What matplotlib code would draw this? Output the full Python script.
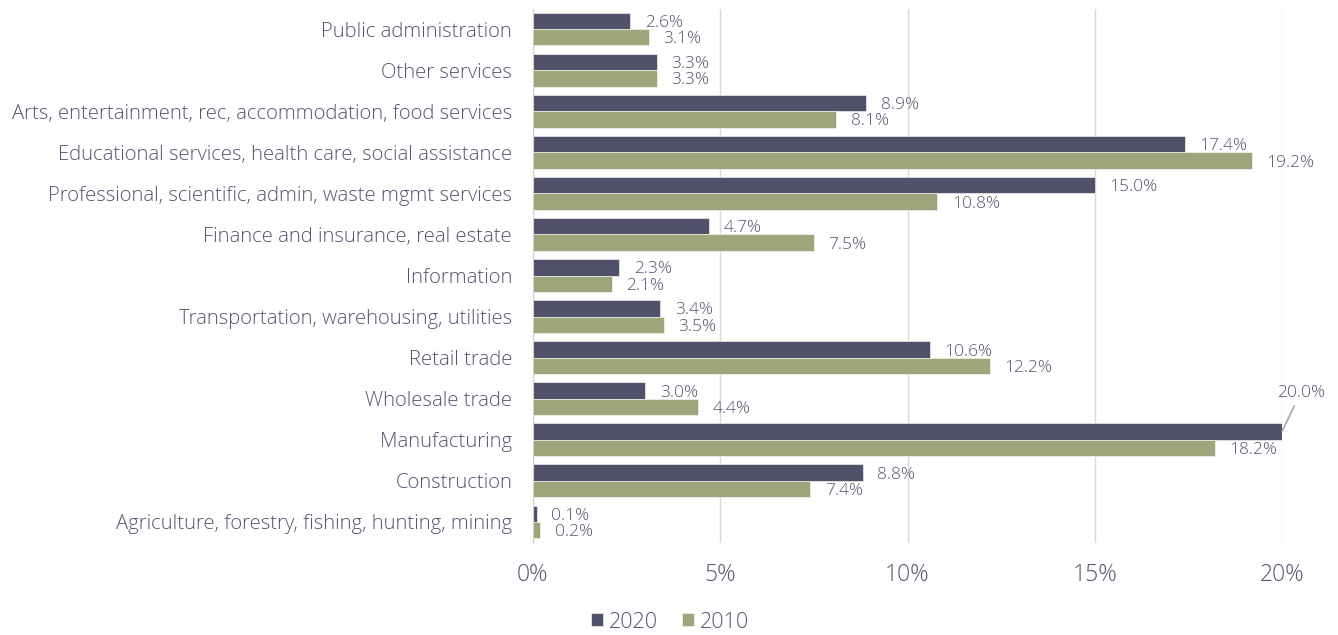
import matplotlib.pyplot as plt
import numpy as np

categories = [
    "Public administration",
    "Other services",
    "Arts, entertainment, rec, accommodation, food services",
    "Educational services, health care, social assistance",
    "Professional, scientific, admin, waste mgmt services",
    "Finance and insurance, real estate",
    "Information",
    "Transportation, warehousing, utilities",
    "Retail trade",
    "Wholesale trade",
    "Manufacturing",
    "Construction",
    "Agriculture, forestry, fishing, hunting, mining",
]
share_2020 = [2.6, 3.3, 8.9, 17.4, 15.0, 4.7, 2.3, 3.4, 10.6, 3.0, 20.0, 8.8, 0.1]
share_2010 = [3.1, 3.3, 8.1, 19.2, 10.8, 7.5, 2.1, 3.5, 12.2, 4.4, 18.2, 7.4, 0.2]
x_ticks = [0, 5, 10, 15, 20]

C2020 = "#515169"
C2010 = "#9da57b"
TXT = "#555570"
plt.rcParams['font.family'] = ['Open Sans', 'DejaVu Sans']

fig = plt.figure(figsize=(13.38, 6.35), dpi=100)
ax = fig.add_axes([533 / 1338, 1 - 542.5 / 635, (1282 - 533) / 1338, (542.5 - 8.5) / 635])

n = len(categories)
y = np.arange(n)
h = 0.40
ax.barh(y - h / 2, share_2020, height=h, color=C2020, edgecolor="#ffffff", linewidth=0.4, label="2020", zorder=3)
ax.barh(y + h / 2, share_2010, height=h, color=C2010, edgecolor="#ffffff", linewidth=0.4, label="2010", zorder=3)

ax.set_xlim(0, 20)
ax.set_ylim(n - 0.5, -0.5)
ax.set_yticks(y)
ax.set_yticklabels(categories, fontsize=14.6, color=TXT, fontweight="light")
ax.set_xticks(x_ticks)
ax.set_xticklabels([f"{t}%" for t in x_ticks], fontsize=16.5, color=TXT, fontweight="light")
ax.tick_params(axis="both", length=0)
ax.tick_params(axis="y", pad=15)
ax.tick_params(axis="x", pad=15)
ax.grid(axis="x", color="#d9d9d9", linewidth=1, zorder=0)
for s in ["top", "right", "bottom"]:
    ax.spines[s].set_visible(False)
ax.spines["left"].set_color("#d0d0d0")
ax.spines["left"].set_zorder(4)

# value labels beside each bar
for i in range(n):
    for val, dy in ((share_2020[i], -h / 2), (share_2010[i], h / 2)):
        if val >= 20:
            continue
        ax.annotate(f"{val:.1f}%", (val, i + dy), xytext=(10.5, -1.5), textcoords="offset points",
                    ha="left", va="center", fontsize=12.5, color=TXT, fontweight="light")

# manufacturing 2020 label with a leader line
mi = categories.index("Manufacturing")
ax.annotate(f"{share_2020[mi]:.1f}%", (share_2020[mi], mi - h / 2), xytext=(13.5, 28),
            textcoords="offset points", ha="center", va="center", fontsize=12.5, color=TXT,
            fontweight="light",
            arrowprops=dict(arrowstyle="-", color="#a6a6a6", lw=1.2, shrinkA=2, shrinkB=0),
            annotation_clip=False)

handles, labels = ax.get_legend_handles_labels()
leg = fig.legend(handles, labels, loc="center", bbox_to_anchor=(670 / 1338, 1 - 622 / 635), ncol=2,
                 frameon=False, fontsize=15.5, labelcolor=TXT, handlelength=0.55, handleheight=0.55,
                 handletextpad=0.3, columnspacing=1.1, prop={"weight": "light", "size": 15.5})

fig.savefig("out.png", dpi=100)
